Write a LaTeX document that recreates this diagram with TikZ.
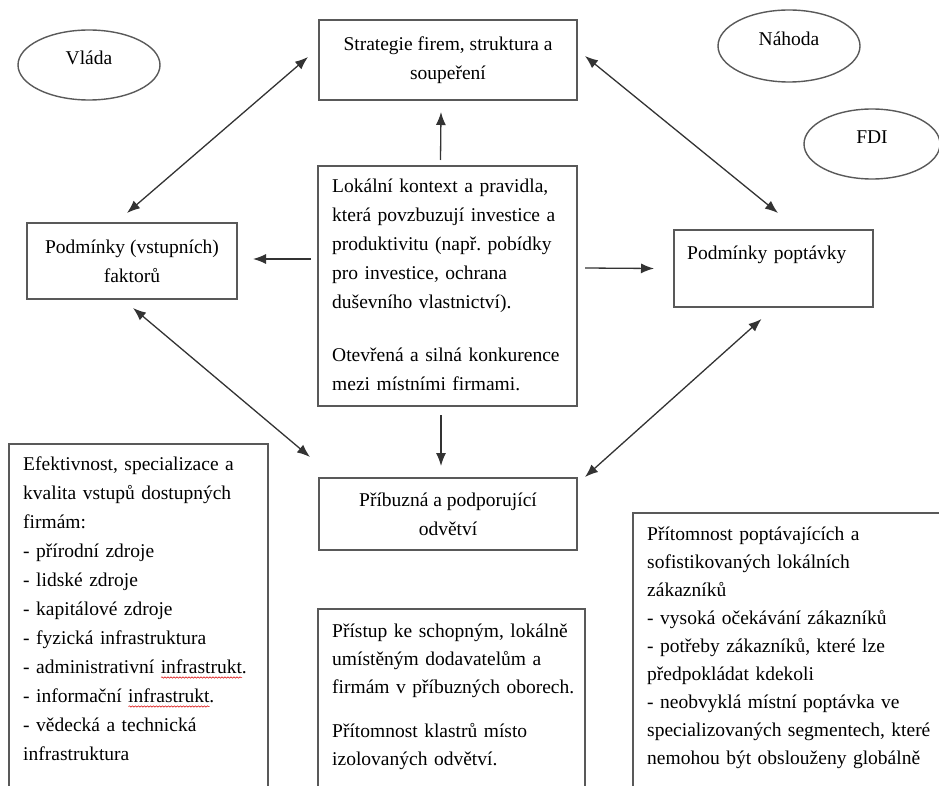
\documentclass[tikz,border=0pt]{standalone}
\usepackage{fontspec}
\setmainfont{Liberation Serif}
\usepackage{tikz}
\usetikzlibrary{arrows.meta,shapes.geometric,decorations.pathmorphing}
\frenchspacing
\newdimen\wavelen
\newcommand{\spellwave}[1]{\setbox0\hbox{#1}\wavelen=\wd0\rlap{\tikz[baseline=0pt]\draw[red!85!black, line width=0.5pt, decorate, decoration={snake, amplitude=0.7pt, segment length=3pt}] (0pt,-4.5pt) -- (\wavelen,-4.5pt);}#1}

\begin{document}
\begin{tikzpicture}[x=1pt, y=-1pt,
  font=\fontsize{19.5}{29}\selectfont,
  >={Latex[length=13pt,width=10pt]},
  box/.style={draw=black!65, line width=1.6pt, rectangle, inner sep=0pt, outer sep=0pt, anchor=north west},
  oval/.style={draw=black!65, line width=1.4pt, ellipse, minimum width=142pt, minimum height=70pt, inner sep=0pt, text height=14pt, text depth=15pt},
  txt/.style={anchor=base west, inner sep=0pt, align=left, text width=320pt},
  link/.style={line width=1.3pt, draw=black!80}]
\useasboundingbox (0,0) rectangle (939,786);
\clip (0,0) rectangle (939,786);

% Define the outside influences
\node[oval] (vlada) at (89,65) {Vláda};
\node[oval, minimum height=72pt] (nahoda) at (789,46) {Náhoda};
\node[oval, minimum width=136pt] (fdi) at (872,144) {FDI};

% Define the four corners of the diamond and the centre
\node[box, minimum width=258pt, minimum height=80pt, align=center] (strat) at (319,20) {Strategie firem, struktura a\\soupeření};
\node[box, minimum width=210pt, minimum height=76pt, align=center] (fak) at (27,223) {Podmínky (vstupních)\\faktorů};
\node[box, minimum width=199pt, minimum height=77pt] (pop) at (674,230) {};
\node[box, minimum width=258pt, minimum height=72pt, align=center] (pri) at (319,478) {Příbuzná a podporující\\odvětví};
\node[box, minimum width=259pt, minimum height=240pt] (lok) at (318,166) {};

% Boxes running off the bottom edge
\node[box, minimum width=259pt, minimum height=360pt] (efe) at (9,444) {};
\node[box, minimum width=267pt, minimum height=200pt] (pris) at (318,609) {};
\node[box, minimum width=330pt, minimum height=300pt] (prit) at (633,513) {};

% Texts set from the top left of their boxes
\node[txt] (popt) at ([xshift=13pt,yshift=-30pt]pop.north west) {Podmínky poptávky};
\node[txt] (lokt) at ([xshift=14pt,yshift=-27pt]lok.north west) {Lokální kontext a pravidla,\\
  která povzbuzují investice a\\
  produktivitu (např. pobídky\\
  pro investice, ochrana\\
  duševního vlastnictví).\\[24pt]
  Otevřená a silná konkurence\\
  mezi místními firmami.};
\node[txt] (efet) at ([xshift=14pt,yshift=-26pt]efe.north west) {Efektivnost, specializace a\\
  kvalita vstupů dostupných\\
  firmám:\\
  - přírodní zdroje\\
  - lidské zdroje\\
  - kapitálové zdroje\\
  - fyzická infrastruktura\\
  - administrativní \spellwave{infrastrukt}.\\
  - informační \spellwave{infrastrukt}.\\
  - vědecká a technická\\
  infrastruktura};
\node[txt, font=\fontsize{19.5}{28}\selectfont] (prist) at ([xshift=14pt,yshift=-28pt]pris.north west) {Přístup ke schopným, lokálně\\
  umístěným dodavatelům a\\
  firmám v příbuzných oborech.\\[16pt]
  Přítomnost klastrů místo\\
  izolovaných odvětví.};
\node[txt, font=\fontsize{19.5}{28}\selectfont] (pritt) at ([xshift=14pt,yshift=-27pt]prit.north west) {Přítomnost poptávajících a\\
  sofistikovaných lokálních\\
  zákazníků\\
  - vysoká očekávání zákazníků\\
  - potřeby zákazníků, které lze\\
  předpokládat kdekoli\\
  - neobvyklá místní poptávka ve\\
  specializovaných segmentech, které\\
  nemohou být obslouženy globálně};

% Draw the two-way links round the diamond
\draw[link, <->] ([xshift=-11pt,yshift=3pt]strat.west) -- ([xshift=-5pt,yshift=10pt]fak.north);
\draw[link, <->] ([xshift=8pt,yshift=4pt]strat.east) -- ([xshift=4.5pt,yshift=17pt]pop.north);
\draw[link, <->] ([xshift=1pt,yshift=-9pt]fak.south) -- ([xshift=-9pt,yshift=21pt]pri.north west);
\draw[link, <->] ([xshift=-12pt,yshift=-12pt]pop.south) -- ([xshift=8pt,yshift=1pt]pri.north east);

% Draw the one-way links out of the centre
\draw[link, ->] ([xshift=-7pt,yshift=6pt]lok.north) -- ([xshift=-7pt,yshift=-12pt]strat.south);
\draw[link, ->] ([xshift=-7pt,yshift=27pt]lok.west) -- ([xshift=16pt,yshift=2pt]fak.east);
\draw[link, ->] ([xshift=8pt,yshift=18pt]lok.east) -- ([xshift=-20pt]pop.west);
\draw[link, ->] ([xshift=-6.5pt,yshift=-9pt]lok.south) -- ([xshift=-7pt,yshift=12pt]pri.north);
\end{tikzpicture}
\end{document}
